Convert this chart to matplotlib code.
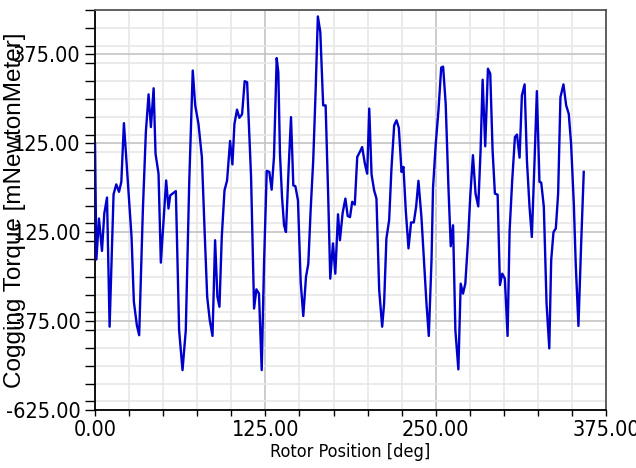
import matplotlib
matplotlib.use("Agg")
import matplotlib.pyplot as plt
from matplotlib import font_manager
from matplotlib.font_manager import FontProperties
from matplotlib.ticker import MultipleLocator, FormatStrFormatter

# rotor position [deg] and cogging torque [mNewtonMeter]
rotor_pos = [
    0, 1, 2.9, 5.1, 6.8, 8.8, 10.7, 13.6, 15.6, 17.6, 19.3, 21.2, 26.8, 28.5,
    30.7, 32.4, 35.1, 37.3, 39.3, 41, 43, 44.4, 46.6, 48.3, 52.2, 53.9, 55.2,
    57.6, 59.3, 61.7, 64.2, 66.6, 69.1, 71.7, 73.5, 75.9, 78.4, 80.3, 82.3,
    84.2, 86.2, 88.1, 89.8, 91.3, 93, 95, 96.9, 99.1, 100.8, 102.3, 104.2,
    105.9, 107.9, 109.8, 111.6, 114.5, 116.7, 118.4, 120.3, 122.3, 124, 126,
    127.9, 129.6, 131.3, 133.3, 134.5, 135.7, 137.2, 138.7, 140.1, 142.1,
    143.8, 145.5, 147, 148.9, 150.9, 152.8, 154.8, 156.5, 158.2, 160.1, 161.8,
    163.5, 165.3, 167.4, 169.2, 171.1, 172.6, 174.6, 176.3, 178.3, 179.7,
    181.7, 183.7, 185.4, 187.1, 188.7, 190.6, 192.4, 194.3, 196, 198, 199.7,
    201.2, 202.9, 204.8, 206.5, 208.5, 210.7, 212.1, 213.8, 215.8, 217.5,
    219.5, 221.2, 222.9, 224.9, 226.3, 228, 230, 231.9, 233.9, 235.6, 237.3,
    239.5, 241.5, 243.2, 244.9, 246.9, 248, 250, 252, 254, 255.4, 257.3,
    259.3, 261, 262.7, 264.4, 266.6, 268.3, 270, 271.7, 273.7, 275.3, 277.3,
    279.2, 281.2, 282.9, 284.4, 286.3, 288.3, 290, 291.7, 293.4, 295.4, 297.1,
    298.8, 300.7, 302.7, 304.2, 306.1, 308.1, 309.6, 311.5, 313.2, 315.2,
    316.9, 318.8, 320.5, 322.5, 324.2, 326.1, 327.4, 329.3, 331.3, 333.3,
    334.7, 336.4, 338.1, 339.8, 341.5, 343.7, 345.7, 347.6, 349.3, 351.3,
    352.7, 354.7, 356.7, 358.6,
]
torque = [
    125, -201, -86, -177, -72, -27, -390, -18, 10, -11, 17, 182, -138, -320,
    -386, -414, -63, 157, 263, 171, 280, 96, 40, -210, 21, -58, -21,
    -14, -9, -400, -512, -400, 12, 330, 232, 180, 87, -110, -306,
    -372, -416, -147, -306, -334, -138, -7, 21, 132, 66, 180, 220,
    197, 207, 300, 297, 31, -339, -285, -297, -512, -213, 48,
    45, -5, 87, 365, 325, 96, -25, -105, -124, 59,
    199, 7, 5, -35, -264, -360, -250, -213, -63, 77, 265,
    482, 438, 232, 232, -25, -255, -156, -241, -74, -147,
    -70, -30, -79, -82, -39, -47, 87, 101, 115, 68, 40,
    223, 38, -7, -30, -287, -390, -325, -142, -91, 54,
    176, 190, 169, 45, 59, -63, -170, -97, -97, -53, 20,
    -82, -213, -325, -416, -203, 0, 124, 218, 338, 341, 236,
    3, -164, -105, -400, -510, -269, -297, -269, -147, -25, 92,
    -16, -52, 106, 304, 117, 335, 321, 106, -16, -19, -273,
    -241, -255, -416, -119, 21, 143, 150, 85, 260, 291,
    77, -53, -138, 77, 272, 17, 15, -53, -325, -451,
    -203, -124, -114, -16, 255, 291, 232, 208, 124, -44,
    -213, -388, -156, 45,
]

# look for a narrow / condensed sans face, otherwise shrink the regular one
narrow_file = None
for f in font_manager.fontManager.ttflist:
    nm = f.name + " " + f.fname
    if f.style == "normal" and f.weight in (400, "normal") and \
            ("Narrow" in nm or "Condensed" in nm) and "Mono" not in nm and "Serif" not in nm:
        narrow_file = f.fname
        break
if narrow_file:
    tick_fp = FontProperties(fname=narrow_file, size=15.5)
    xlab_fp = FontProperties(fname=narrow_file, size=13)
else:
    tick_fp = FontProperties(family="Liberation Sans", size=13)
    xlab_fp = FontProperties(family="Liberation Sans", size=12.5)

fig = plt.figure(figsize=(6.36, 4.68), dpi=100)
ax = fig.add_axes([0.1494, 0.1233, 0.8036, 0.8553])

ax.plot(rotor_pos, torque, color="#0000cc", lw=1.7, zorder=3)

ax.set_xlim(0, 375)
ax.set_ylim(-625, 500)

ax.xaxis.set_major_locator(MultipleLocator(125))
ax.xaxis.set_minor_locator(MultipleLocator(25))
ax.set_yticks([-625, -375, -125, 125, 375])
ax.yaxis.set_minor_locator(MultipleLocator(50))
ax.xaxis.set_major_formatter(FormatStrFormatter("%.2f"))
ax.yaxis.set_major_formatter(FormatStrFormatter("%.2f"))

ax.grid(True, which="minor", color="#e8e8e8", lw=1.2, zorder=0)
ax.grid(True, which="major", color="#c4c4c4", lw=1.2, zorder=1)
ax.set_axisbelow(True)

ax.tick_params(axis="y", which="both", direction="out", length=7, width=1, pad=3.5)
ax.tick_params(axis="x", which="both", direction="out", length=4, width=1, pad=3)
for lab in ax.get_xticklabels() + ax.get_yticklabels():
    lab.set_fontproperties(tick_fp)

for side in ["left", "bottom"]:
    ax.spines[side].set_color("black")
    ax.spines[side].set_linewidth(1.3)
for side in ["top", "right"]:
    ax.spines[side].set_color("#555555")
    ax.spines[side].set_linewidth(1.3)

ax.set_xlabel("Rotor Position [deg]", fontproperties=xlab_fp)
ax.xaxis.set_label_coords(0.499, -0.104)
ax.xaxis.label.set_va("center")
ax.set_ylabel("Cogging Torque [mNewtonMeter]", family="Liberation Sans", fontsize=17.5)
ax.yaxis.set_label_coords(-0.156, 0.5)
ax.yaxis.label.set_va("center")

fig.savefig("out.png", dpi=100)
